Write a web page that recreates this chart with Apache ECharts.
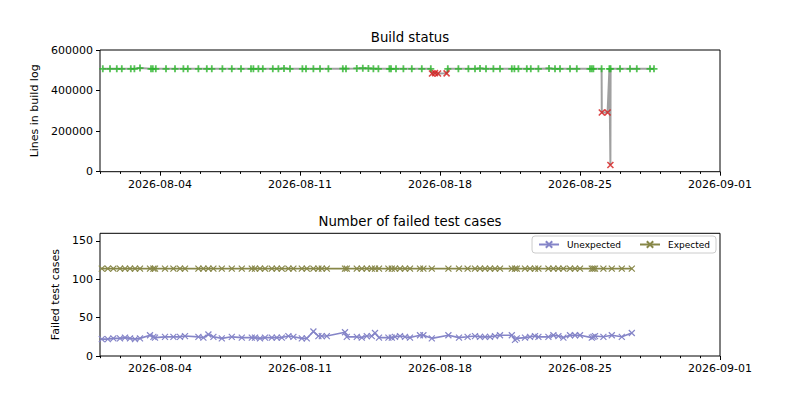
<!DOCTYPE html>
<html>
<head>
<meta charset="utf-8">
<script src="https://cdn.jsdelivr.net/npm/echarts@6/dist/echarts.min.js"></script>
<style>
  html, body { margin: 0; background: #fff; }
  #chart { width: 800px; height: 400px; }
</style>
</head>
<body>
<div id="chart"></div>
<script>
// x values are days since 2026-08-01 00:00
var tickDays = [3, 10, 17, 24, 31];
var tickLabels = ['2026-08-04', '2026-08-11', '2026-08-18', '2026-08-25', '2026-09-01'];

// top plot: every build, in time order
var buildDay = [
  0.14, 0.5, 0.84, 1.09, 1.54, 1.72, 2.0, 2.55, 2.64, 2.79,
  3.3, 3.75, 4.17, 4.39, 4.92, 5.34, 5.59, 6.12, 6.59, 7.05,
  7.55, 7.67, 7.92, 8.14, 8.64, 8.92, 9.2, 9.5, 10.12, 10.3,
  10.67, 11.0, 11.42, 12.14, 12.3, 12.84, 13.14, 13.42, 13.67, 13.92,
  14.47, 14.55, 14.8, 15.17, 15.59, 16.09, 16.54, 16.6, 16.75, 16.9,
  17.33, 17.39, 17.92, 18.42, 18.75, 19.0, 19.3, 19.67, 20.0, 20.59,
  20.72, 20.92, 21.34, 21.54, 21.92, 22.45, 22.75, 23.0, 23.5, 23.84,
  24.5, 24.59, 24.67, 25.08, 25.09, 25.38, 25.47, 25.52, 25.53, 26.0,
  26.5, 26.84, 27.5, 27.7
];
var buildLines = [
  507000, 507000, 507000, 507000, 507000, 507000, 511000, 507000, 507000, 507000,
  507000, 507000, 507000, 507000, 507000, 507000, 507000, 507000, 507000, 507000,
  507000, 507000, 507000, 507000, 507000, 507000, 509000, 507000, 507000, 507000,
  507000, 507000, 507000, 508000, 508000, 509000, 510000, 509000, 508000, 507000,
  507000, 507000, 507000, 507000, 507000, 507000, 507000, 484000, 486000, 484000,
  485000, 507000, 507000, 507000, 507000, 509000, 507000, 507000, 507000, 507000,
  507000, 507000, 507000, 507000, 507000, 509000, 507000, 507000, 507000, 507000,
  507000, 507000, 507000, 507000, 292000, 292000, 507000, 33000, 507000, 507000,
  507000, 507000, 507000, 507000
];
var buildPassed = [
  1, 1, 1, 1, 1, 1, 1, 1, 1, 1,
  1, 1, 1, 1, 1, 1, 1, 1, 1, 1,
  1, 1, 1, 1, 1, 1, 1, 1, 1, 1,
  1, 1, 1, 1, 1, 1, 1, 1, 1, 1,
  1, 1, 1, 1, 1, 1, 1, 0, 0, 0,
  0, 1, 1, 1, 1, 1, 1, 1, 1, 1,
  1, 1, 1, 1, 1, 1, 1, 1, 1, 1,
  1, 1, 1, 1, 0, 0, 1, 0, 1, 1,
  1, 1, 1, 1
];

// bottom plot: test runs
var testDay = [
  0.09, 0.39, 0.67, 1.0, 1.25, 1.5, 1.75, 2.0, 2.5, 2.67,
  2.75, 3.25, 3.67, 4.0, 4.25, 4.92, 5.17, 5.42, 5.67, 6.09,
  6.59, 7.09, 7.59, 7.75, 8.0, 8.25, 8.59, 8.84, 9.09, 9.42,
  9.67, 10.09, 10.34, 10.67, 10.92, 11.09, 11.34, 12.25, 12.34, 12.84,
  13.09, 13.34, 13.59, 13.75, 13.95, 14.42, 14.59, 14.75, 15.0, 15.25,
  15.5, 16.0, 16.17, 16.59, 17.42, 17.95, 18.38, 18.75, 19.0, 19.25,
  19.5, 19.75, 20.0, 20.59, 20.75, 20.84, 21.25, 21.5, 21.75, 21.92,
  22.42, 22.67, 22.92, 23.17, 23.5, 23.75, 24.0, 24.59, 24.67, 24.75,
  25.17, 25.59, 26.09, 26.59
];
var unexpected = [
  22, 22, 23, 23, 24, 23, 22, 23, 27, 25,
  24, 25, 25, 25, 26, 25, 24, 28, 25, 23,
  25, 24, 24, 24, 23, 24, 24, 24, 24, 26,
  25, 23, 23, 32, 26, 26, 26, 31, 25, 25,
  24, 26, 26, 30, 24, 24, 24, 25, 26, 25,
  24, 27, 27, 23, 27, 24, 25, 26, 25, 25,
  25, 26, 27, 27, 21, 23, 24, 25, 26, 25,
  25, 27, 26, 24, 27, 27, 27, 24, 25, 26,
  25, 27, 25, 30
];
var expected = [
  114, 114, 114, 114, 114, 114, 114, 114, 114, 114,
  114, 114, 114, 114, 114, 114, 114, 114, 114, 114,
  114, 114, 114, 114, 114, 114, 114, 114, 114, 114,
  114, 114, 114, 114, 114, 114, 114, 114, 114, 114,
  114, 114, 114, 114, 114, 114, 114, 114, 114, 114,
  114, 114, 114, 114, 114, 114, 114, 114, 114, 114,
  114, 114, 114, 114, 114, 114, 114, 114, 114, 114,
  114, 114, 114, 114, 114, 114, 114, 114, 114, 114,
  114, 114, 114, 114
];

var xMark = 'path://M0,0L10,10M10,0L0,10';
var plusMark = 'path://M5,0L5,10M0,5L10,5';
var font = 'DejaVu Sans';

var minorDays = [];
for (var d = 0; d <= 31; d++) minorDays.push(d);

function zip(xs, ys) {
  return xs.map(function (x, i) { return [x, ys[i]]; });
}
function pick(flag) {
  var out = [];
  buildDay.forEach(function (x, i) {
    if (buildPassed[i] === flag) out.push([x, buildLines[i]]);
  });
  return out;
}

function xAxes(g) {
  return [{
    gridIndex: g, type: 'value', min: 0, max: 31,
    axisLine: { show: false }, splitLine: { show: false },
    axisTick: { customValues: tickDays, length: 4, lineStyle: { color: '#000' } },
    axisLabel: {
      customValues: tickDays, color: '#000', fontSize: 11, fontFamily: font, margin: 7,
      formatter: function (v) { return tickLabels[tickDays.indexOf(v)]; }
    }
  }, {
    gridIndex: g, type: 'value', min: 0, max: 31, position: 'bottom',
    axisLine: { show: false }, splitLine: { show: false }, axisLabel: { show: false },
    axisTick: { customValues: minorDays, length: 2.2, lineStyle: { color: '#000' } }
  }];
}

var chart = echarts.init(document.getElementById('chart'), null, { renderer: 'svg' });
chart.setOption({
  animation: false,
  textStyle: { fontFamily: font },
  graphic: [
    { type: 'text', x: 410, y: 37, style: { text: 'Build status', align: 'center', verticalAlign: 'middle', font: '13.3px "DejaVu Sans"', fill: '#000' } },
    { type: 'text', x: 410, y: 221, style: { text: 'Number of failed test cases', align: 'center', verticalAlign: 'middle', font: '13.3px "DejaVu Sans"', fill: '#000' } }
  ],
  grid: [
    { left: 100, right: 80, top: 50, height: 121.7, show: true, borderColor: '#000', borderWidth: 1 },
    { left: 100, right: 80, top: 233.3, height: 122.7, show: true, borderColor: '#000', borderWidth: 1 }
  ],
  legend: {
    data: ['Unexpected', 'Expected'],
    right: 84, top: 236,
    itemWidth: 20, itemHeight: 8, itemGap: 18,
    padding: [4, 6],
    borderColor: '#ccc', borderWidth: 1, borderRadius: 3,
    backgroundColor: 'rgba(255,255,255,0.8)',
    textStyle: { fontSize: 9, color: '#000', fontFamily: font, padding: [0, 0, 0, 3] }
  },
  xAxis: xAxes(0).concat(xAxes(1)),
  yAxis: [{
    gridIndex: 0, type: 'value', min: 0, max: 600000, interval: 200000,
    axisLine: { show: false }, splitLine: { show: false },
    axisTick: { show: true, length: 4, lineStyle: { color: '#000' } },
    axisLabel: { color: '#000', fontSize: 11, margin: 7, formatter: function (v) { return String(v); } },
    name: 'Lines in build log', nameLocation: 'middle', nameGap: 53,
    nameTextStyle: { fontSize: 11, color: '#000' }
  }, {
    gridIndex: 1, type: 'value', min: 0, max: 160,
    axisLine: { show: false }, splitLine: { show: false },
    axisTick: { show: true, customValues: [0, 50, 100, 150], length: 4, lineStyle: { color: '#000' } },
    axisLabel: { customValues: [0, 50, 100, 150], color: '#000', fontSize: 11, margin: 7 },
    name: 'Failed test cases', nameLocation: 'middle', nameGap: 32,
    nameTextStyle: { fontSize: 11, color: '#000' }
  }],
  series: [{
    name: 'builds', type: 'line', xAxisIndex: 0, yAxisIndex: 0,
    data: zip(buildDay, buildLines), showSymbol: false,
    lineStyle: { color: '#808080', width: 2, opacity: 0.75 }, z: 1
  }, {
    name: 'passed', type: 'scatter', xAxisIndex: 0, yAxisIndex: 0,
    data: pick(1), symbol: plusMark, symbolSize: 7,
    itemStyle: { color: '#2cb52c', borderColor: '#2cb52c', borderWidth: 1.8 }, z: 3
  }, {
    name: 'failed', type: 'scatter', xAxisIndex: 0, yAxisIndex: 0,
    data: pick(0), symbol: xMark, symbolSize: 6,
    itemStyle: { color: '#d41a1a', borderColor: '#d41a1a', borderWidth: 1.6 }, z: 3
  }, {
    name: 'Unexpected', type: 'line', xAxisIndex: 2, yAxisIndex: 1,
    data: zip(testDay, unexpected), symbol: xMark, symbolSize: 6,
    lineStyle: { color: '#8585c8', width: 1.6 },
    itemStyle: { color: '#8585c8', borderColor: '#8585c8', borderWidth: 1.2 }
  }, {
    name: 'Expected', type: 'line', xAxisIndex: 2, yAxisIndex: 1,
    data: zip(testDay, expected), symbol: xMark, symbolSize: 6,
    lineStyle: { color: '#878748', width: 1.8 },
    itemStyle: { color: '#878748', borderColor: '#878748', borderWidth: 1.2 }
  }]
});
</script>
</body>
</html>
